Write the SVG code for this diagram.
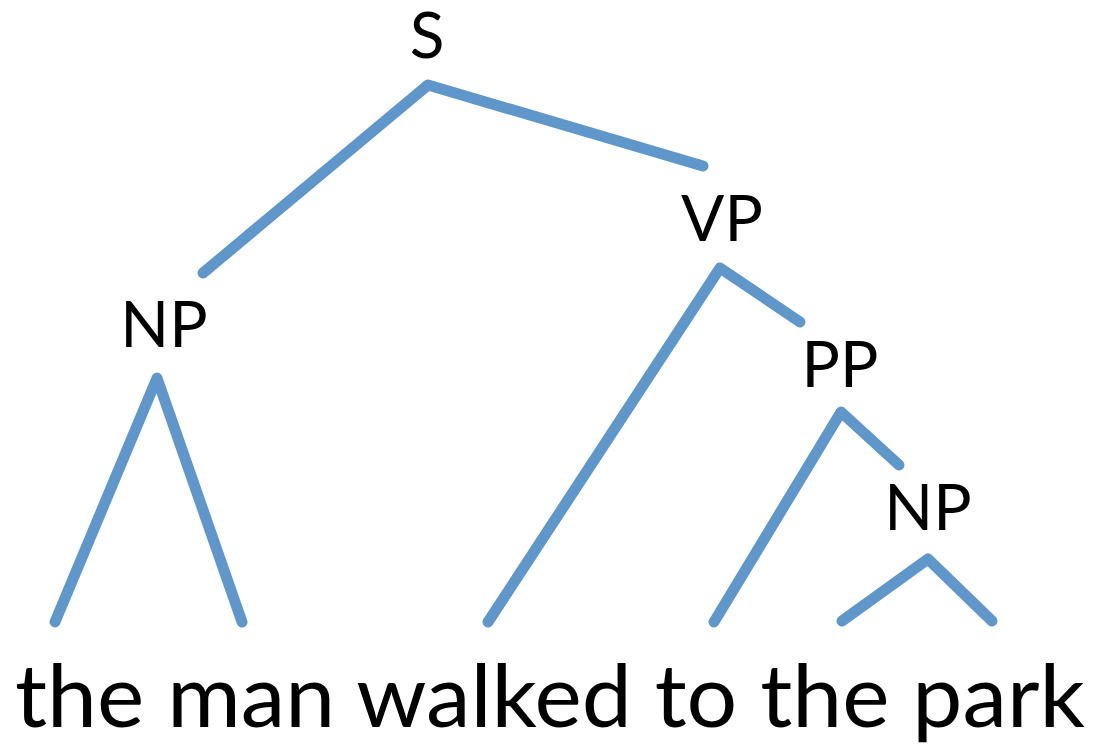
<svg xmlns="http://www.w3.org/2000/svg" width="1094" height="745" viewBox="0 0 1094 745">
  <style>
    .edge { fill: none; stroke: #6097CA; stroke-width: 11; stroke-linecap: round; stroke-linejoin: round; }
    .label { font-family: Lato, "Open Sans", "Liberation Sans", sans-serif; font-size: 64px; fill: #000; text-anchor: middle; }
    .words { font-family: Lato, "Open Sans", "Liberation Sans", sans-serif; font-size: 88px; fill: #000; }
  </style>
  <rect width="1094" height="745" fill="#fff"/>

  <!-- branches of the parse tree -->
  <g id="connectors">
    <polyline class="edge" points="203,273 428,85 703,166"/>
    <polyline class="edge" points="55,622 157,378 242,622"/>
    <polyline class="edge" points="488,622 720,268 800,322"/>
    <polyline class="edge" points="714,622 841,412 899,465"/>
    <polyline class="edge" points="842,621 928,559 992,621"/>
  </g>

  <g id="node-S"><text class="label" x="427" y="58">S</text></g>
  <g id="node-NP1"><text class="label" x="164" y="347">NP</text></g>
  <g id="node-VP"><text class="label" x="722" y="241">VP</text></g>
  <g id="node-PP"><text class="label" x="840" y="387">PP</text></g>
  <g id="node-NP2"><text class="label" x="928" y="530">NP</text></g>

  <g id="sentence">
    <text class="words" x="15" y="727" textLength="1070" lengthAdjust="spacingAndGlyphs">the man walked to the park</text>
  </g>
</svg>
